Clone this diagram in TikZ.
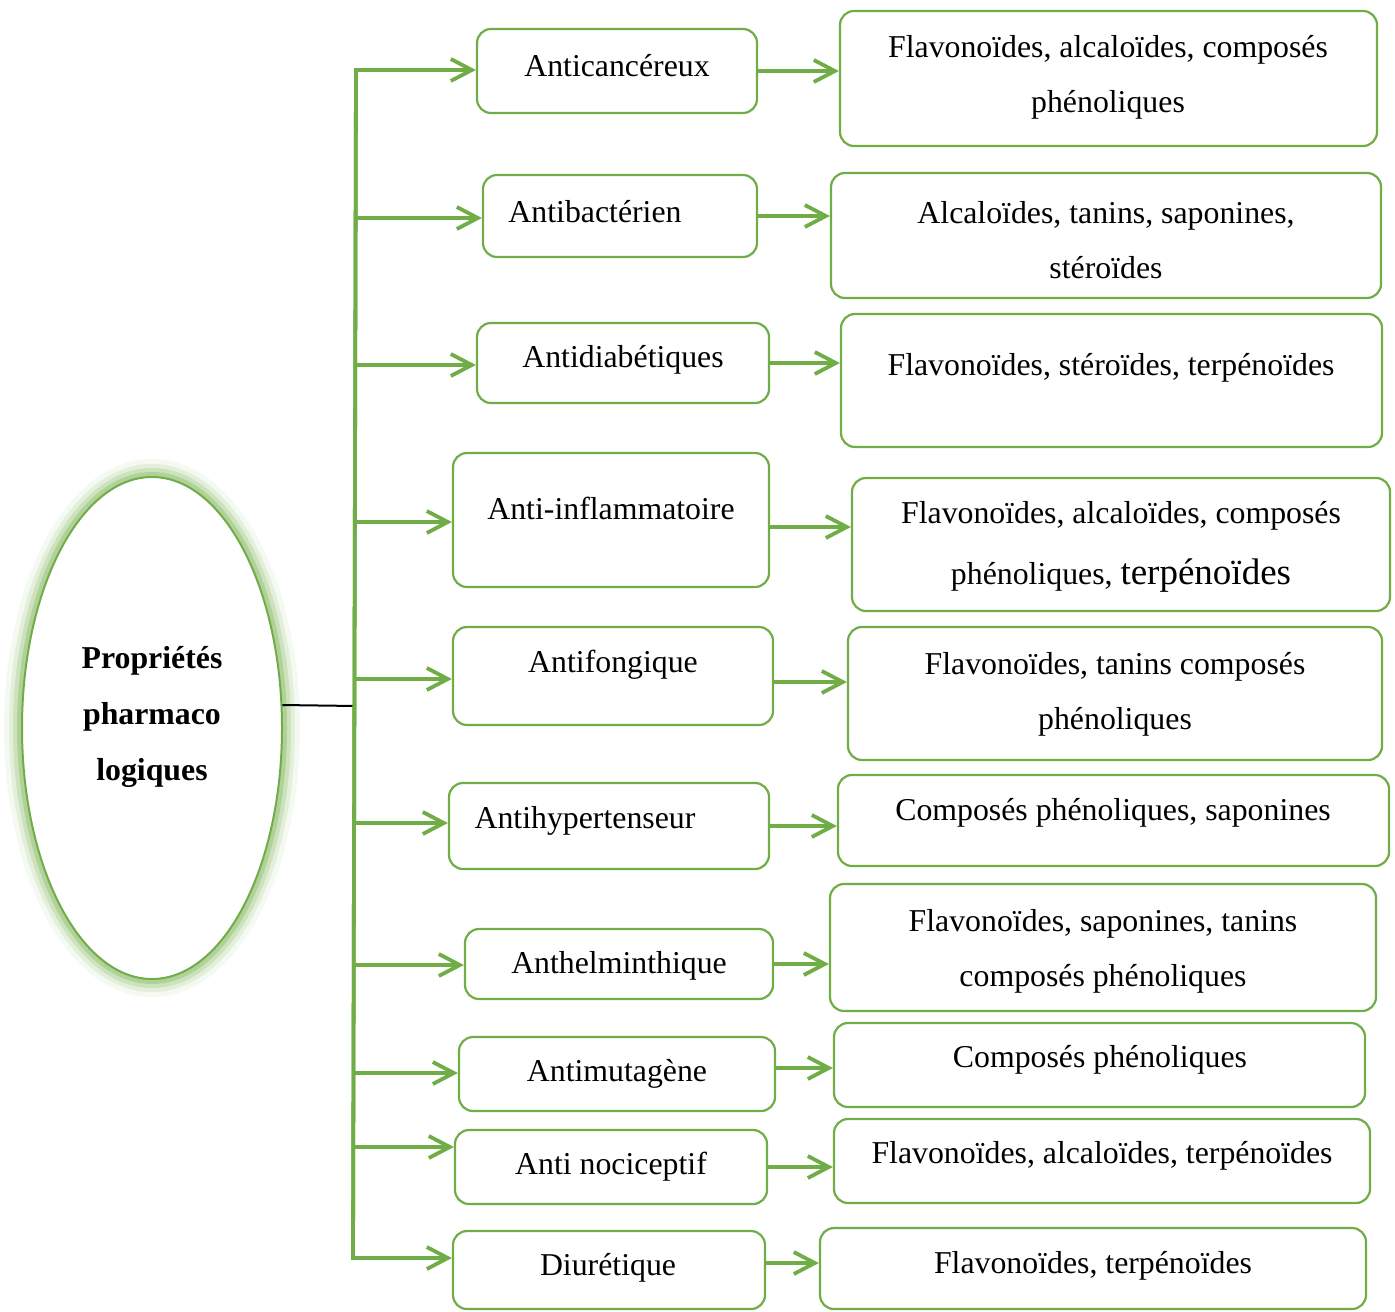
\documentclass[tikz,border=0pt]{standalone}
\usepackage{fontspec}
\setmainfont{Liberation Serif}
\usetikzlibrary{arrows.meta, shapes.geometric, fit}
\definecolor{leaf}{HTML}{70AD47}

\begin{document}
\begin{tikzpicture}[x=0.5pt, y=-0.5pt, >={Straight Barb[length=10.5pt, width=11pt]},
  font=\fontsize{15.9}{27.5}\selectfont,
  box/.style={draw=leaf, line width=1.1pt, rounded corners=7pt, inner sep=0pt},
  txt/.style={align=center, inner sep=0pt, yshift=-1.5pt},
  link/.style={->, draw=leaf, line width=1.9pt}]

  \useasboundingbox (0,0) rectangle (1395,1311);

  % Glow round the ellipse
  \draw[leaf, line width=18pt, opacity=0.08] (152,728) ellipse [x radius=130, y radius=251];
  \draw[leaf, line width=13pt, opacity=0.13] (152,728) ellipse [x radius=130, y radius=251];
  \draw[leaf, line width=9pt, opacity=0.2] (152,728) ellipse [x radius=130, y radius=251];
  \draw[leaf, line width=5pt, opacity=0.3] (152,728) ellipse [x radius=130, y radius=251];

  % Nodes
  \node[ellipse, draw=leaf, line width=1pt, fill=white, minimum width=130pt,
        minimum height=251pt, inner sep=0pt] (E) at (152,728) {};
  \node[txt, font=\fontsize{15.9}{28}\selectfont\bfseries] (Et) at (152,714) {Propriétés\\pharmaco\\logiques};

  \node[box, fit={(477,29) (757,113)}] (A1) {};
  \node[txt] (A1t) at (617,63) {Anticancéreux};
  \node[box, fit={(483,175) (757,257)}] (A2) {};
  \node[txt] (A2t) at (595,209) {Antibactérien};
  \node[box, fit={(477,323) (769,403)}] (A3) {};
  \node[txt] (A3t) at (623,357) {Antidiabétiques};
  \node[box, fit={(453,453) (769,587)}] (A4) {};
  \node[txt] (A4t) at (611,505) {Anti-inflammatoire};
  \node[box, fit={(453,627) (773,725)}] (A5) {};
  \node[txt] (A5t) at (613,662) {Antifongique};
  \node[box, fit={(449,783) (769,869)}] (A6) {};
  \node[txt] (A6t) at (585,818) {Antihypertenseur};
  \node[box, fit={(465,929) (773,999)}] (A7) {};
  \node[txt] (A7t) at (619,963) {Anthelminthique};
  \node[box, fit={(459,1037) (775,1111)}] (A8) {};
  \node[txt] (A8t) at (617,1071) {Antimutagène};
  \node[box, fit={(455,1130) (767,1204)}] (A9) {};
  \node[txt] (A9t) at (611,1164) {Anti nociceptif};
  \node[box, fit={(453,1231) (765,1309)}] (A10) {};
  \node[txt] (A10t) at (608,1265) {Diurétique};

  \node[box, fit={(840,11) (1377,146)}] (B1) {};
  \node[txt] (B1t) at (1108,74) {Flavonoïdes, alcaloïdes, composés\\phénoliques};
  \node[box, fit={(831,173) (1381,298)}] (B2) {};
  \node[txt] (B2t) at (1106,237) {Alcaloïdes, tanins, saponines,\\stéroïdes};
  \node[box, fit={(841,314) (1382,447)}] (B3) {};
  \node[txt] (B3t) at (1111,365) {Flavonoïdes, stéroïdes, terpénoïdes};
  \node[box, fit={(852,478) (1390,611)}] (B4) {};
  \node[txt] (B4t) at (1121,544) {Flavonoïdes, alcaloïdes, composés\\[3pt]phénoliques, {\fontsize{18.5}{27.5}\selectfont terpénoïdes}};
  \node[box, fit={(848,627) (1382,760)}] (B5) {};
  \node[txt] (B5t) at (1115,691) {Flavonoïdes, tanins composés\\phénoliques};
  \node[box, fit={(838,775) (1389,866)}] (B6) {};
  \node[txt] (B6t) at (1113,810) {Composés phénoliques, saponines};
  \node[box, fit={(830,884) (1376,1011)}] (B7) {};
  \node[txt] (B7t) at (1103,948) {Flavonoïdes, saponines, tanins\\composés phénoliques};
  \node[box, fit={(834,1023) (1365,1107)}] (B8) {};
  \node[txt] (B8t) at (1100,1057) {Composés phénoliques};
  \node[box, fit={(834,1119) (1370,1203)}] (B9) {};
  \node[txt] (B9t) at (1102,1153) {Flavonoïdes, alcaloïdes, terpénoïdes};
  \node[box, fit={(820,1228) (1366,1309)}] (B10) {};
  \node[txt] (B10t) at (1093,1263) {Flavonoïdes, terpénoïdes};

  % Trunk points
  \coordinate (T1) at (356,70);
  \coordinate (T2) at (356,218);
  \coordinate (T3) at (356,365);
  \coordinate (T4) at (356,522);
  \coordinate (T5) at (356,679);
  \coordinate (Tm) at (356,706);
  \coordinate (T6) at (355,823);
  \coordinate (T7) at (355,965);
  \coordinate (T8) at (355,1073);
  \coordinate (T9) at (354,1147);
  \coordinate (T10) at (353,1258);

  % Edges
  \draw[line width=1pt] (E.10) -- (Tm);
  \draw[link] (T10) -- (T1) -- (T1 -| A1.west);
  \draw[link] (T1) -- (T10) -- (T10 -| A10.west);
  \draw[link] (T2) -- (T2 -| A2.west);
  \draw[link] (T3) -- (T3 -| A3.west);
  \draw[link] (T4) -- (T4 -| A4.west);
  \draw[link] (T5) -- (T5 -| A5.west);
  \draw[link] (T6) -- (T6 -| A6.west);
  \draw[link] (T7) -- (T7 -| A7.west);
  \draw[link] (T8) -- (T8 -| A8.west);
  \draw[link] (T9) -- (T9 -| A9.west);

  \draw[link] (A1.east) -- (A1.east -| B1.west);
  \draw[link] (A2.east) -- (A2.east -| B2.west);
  \draw[link] (A3.east) -- (A3.east -| B3.west);
  \draw[link] ([yshift=-3.5pt]A4.east) -- ([yshift=-3.5pt]A4.east -| B4.west);
  \draw[link] ([yshift=-3pt]A5.east) -- ([yshift=-3pt]A5.east -| B5.west);
  \draw[link] (A6.east) -- (A6.east -| B6.west);
  \draw[link] (A7.east) -- (A7.east -| B7.west);
  \draw[link] ([yshift=3pt]A8.east) -- ([yshift=3pt]A8.east -| B8.west);
  \draw[link] (A9.east) -- (A9.east -| B9.west);
  \draw[link] ([yshift=3.5pt]A10.east) -- ([yshift=3.5pt]A10.east -| B10.west);

\end{tikzpicture}
\end{document}
